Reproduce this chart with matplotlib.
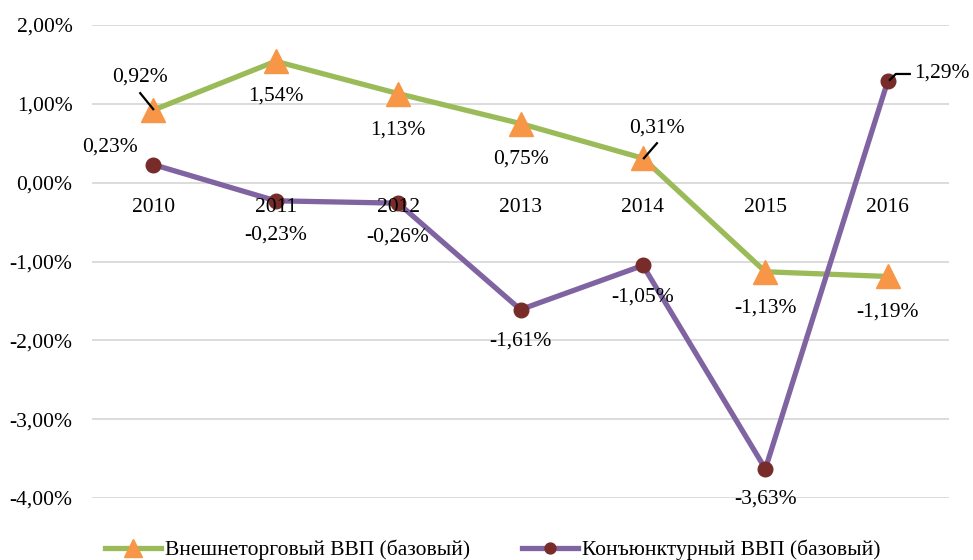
import matplotlib
matplotlib.use("Agg")
import matplotlib.pyplot as plt
from matplotlib.ticker import FuncFormatter

years = ["2010", "2011", "2012", "2013", "2014", "2015", "2016"]
foreign_trade = [0.92, 1.54, 1.13, 0.75, 0.31, -1.13, -1.19]
conjuncture = [0.23, -0.23, -0.26, -1.61, -1.05, -3.63, 1.29]
series_names = ["Внешнеторговый ВВП (базовый)", "Конъюнктурный ВВП (базовый)"]
y_ticks = [2, 1, 0, -1, -2, -3, -4]

plt.rcParams['font.family'] = ['Liberation Serif', 'DejaVu Serif']
FS = 15.5

fig = plt.figure(figsize=(9.73, 5.6), dpi=100)
ax = fig.add_axes([92/973, 62/560, (949-92)/973, (498-25)/560])

x = list(range(len(years)))
ax.plot(x, foreign_trade, color='#9BBB59', lw=3.8, marker='^', ms=17,
        mfc='#F79646', mec='#F79646', label=series_names[0], zorder=3)
ax.plot(x, conjuncture, color='#8064A2', lw=3.8, marker='o', ms=10.5,
        mfc='#772C2A', mec='#772C2A', label=series_names[1], zorder=3)

ax.set_xlim(-0.5, len(years) - 0.5)
ax.set_ylim(-4, 2)
ax.set_yticks(y_ticks)
ax.yaxis.set_major_formatter(FuncFormatter(lambda v, p: f"{v:.2f}%".replace('.', ',')))
ax.set_xticks([])
ax.grid(axis='y', color='#D9D9D9', lw=1.3)
ax.set_axisbelow(True)
for s in ax.spines.values():
    s.set_visible(False)
ax.tick_params(axis='y', length=0, labelsize=FS, pad=14, labelcolor='black')

# year labels near the zero line
for i, yl in enumerate(years):
    ax.annotate(yl, (i, 0), xytext=(0, -25), textcoords='offset pixels',
                ha='center', va='center', fontsize=FS)

def fmt(v):
    return f"{v:.2f}%".replace('.', ',')

# label offsets (pixels) for each point
ft_off = [(-13, 33), (0, -35), (0, -36), (0, -36), (14, 30), (0, -36), (0, -36)]
cj_off = [(-43, 17), (0, -34), (0, -34), (0, -31), (0, -32), (0, -30), (54, 8)]

for i, v in enumerate(foreign_trade):
    ax.annotate(fmt(v), (i, v), xytext=ft_off[i], textcoords='offset pixels',
                ha='center', va='center', fontsize=FS, zorder=5)
for i, v in enumerate(conjuncture):
    ax.annotate(fmt(v), (i, v), xytext=cj_off[i], textcoords='offset pixels',
                ha='center', va='center', fontsize=FS, zorder=5)

# leader lines (pixel offsets from the data point)
def leader(xi, yi, pts):
    base = ax.transData.transform((xi, yi))
    inv = ax.transData.inverted()
    data = [inv.transform((base[0] + dx, base[1] + dy)) for dx, dy in pts]
    ax.plot([d[0] for d in data], [d[1] for d in data], color='black', lw=1.6, zorder=6)

leader(0, foreign_trade[0], [(-13, 17), (0, 1)])
leader(4, foreign_trade[4], [(14, 15), (1, 0)])
leader(6, conjuncture[6], [(2, 1), (8, 7), (22, 7)])

ax.legend(loc='upper center', bbox_to_anchor=(0.468, -0.07), ncol=2, frameon=False,
          fontsize=FS, handlelength=2.6, handletextpad=0.2, columnspacing=2.4,
          borderaxespad=0, markerscale=0.75)

fig.savefig("out.png", dpi=100)
